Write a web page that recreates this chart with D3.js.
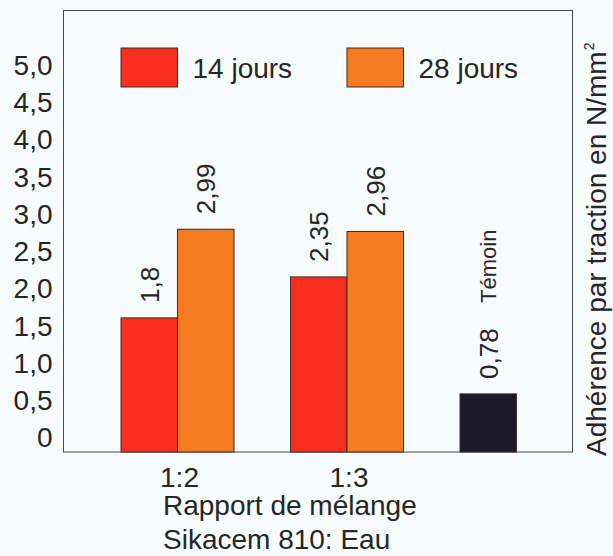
<!DOCTYPE html>
<html>
<head>
<meta charset="utf-8">
<script src="https://cdn.jsdelivr.net/npm/d3@7"></script>
<style>
    body { margin: 0; background: #f7fbfb; }
    svg { display: block; font-family: "Liberation Sans", Arial, Helvetica, sans-serif; }
</style>
</head>
<body>
<div class="chart"></div>
<script>
"use strict";
// data
const groups = ["1:2", "1:3", "Témoin"];
const seriesNames = ["14 jours", "28 jours"];
const values14 = [1.8, 2.35];
const values28 = [2.99, 2.96];
const temoinValue = 0.78;
const yTicks = [0, 0.5, 1, 1.5, 2, 2.5, 3, 3.5, 4, 4.5, 5];
const xTitle = "Rapport de mélange";
const xSubtitle = "Sikacem 810: Eau";
const yTitle = "Adhérence par traction en N/mm";

const colors = {"14 jours": "#fb2d1f", "28 jours": "#f77b22", "Témoin": "#1b1a26"};

let width = 613, height = 556;
let frame = {left: 63.5, right: 572.5, top: 10.5, bottom: 452};

let locale = d3.formatLocale({decimal: ",", thousands: " ", grouping: [3], currency: ["", " €"]});
let fmtTick = locale.format(".1f");
let fmtValue = locale.format("");

let rows = [];
values14.forEach((v, i) => rows.push({group: groups[i], key: seriesNames[0], value: v}));
values28.forEach((v, i) => rows.push({group: groups[i], key: seriesNames[1], value: v}));
rows.push({group: groups[2], key: seriesNames[0], value: temoinValue, temoin: true});

let x0 = d3.scaleBand().domain(groups).range([frame.left + 57.5, frame.right + 0.5]).paddingInner(1 / 3);
let x1 = d3.scaleBand().domain(seriesNames).range([0, x0.bandwidth()]);
let y = d3.scaleLinear().domain([0, 5]).range([frame.bottom, frame.bottom - 372.5]);

let svg = d3.select(".chart").append("svg")
    .attr("width", width)
    .attr("height", height);

svg.append("rect")
    .attr("width", width).attr("height", height)
    .attr("fill", "#f7fbfb");

// frame
svg.append("rect")
    .attr("x", frame.left).attr("y", frame.top)
    .attr("width", frame.right - frame.left)
    .attr("height", frame.bottom - frame.top)
    .attr("fill", "none")
    .attr("stroke", "#4a4a4a")
    .attr("stroke-width", 1);

// y axis labels
let yAxis = d3.axisLeft(y)
    .tickValues(yTicks)
    .tickSize(0)
    .tickPadding(11)
    .tickFormat(d => d === 0 ? "0" : fmtTick(d));

svg.append("g")
    .attr("transform", "translate(" + frame.left + ",0)")
    .call(yAxis)
    .attr("font-family", null)
    .attr("font-size", 28)
    .call(g => g.select(".domain").remove())
    .selectAll("text")
    .attr("dy", "-0.18em")
    .attr("fill", "#262626");

// x axis labels
let xAxis = d3.axisBottom(x0)
    .tickValues(groups.slice(0, 2))
    .tickSize(0);

svg.append("g")
    .attr("transform", "translate(0," + frame.bottom + ")")
    .call(xAxis)
    .attr("font-family", null)
    .attr("font-size", 28)
    .call(g => g.select(".domain").remove())
    .selectAll("text")
    .attr("y", 35)
    .attr("dy", 0)
    .attr("dx", 2)
    .attr("fill", "#262626");

svg.append("text")
    .attr("x", 163).attr("y", 515)
    .attr("font-size", 28)
    .attr("fill", "#262626")
    .text(xTitle);

svg.append("text")
    .attr("x", 163).attr("y", 549)
    .attr("font-size", 28)
    .attr("fill", "#262626")
    .text(xSubtitle);

// right title, rotated
let title = svg.append("text")
    .attr("transform", "translate(606,456) rotate(-90)")
    .attr("font-size", 28)
    .attr("fill", "#262626")
    .text(yTitle);
title.append("tspan")
    .attr("dy", -12)
    .attr("dx", 1)
    .attr("font-size", 14)
    .text("2");

// bars
svg.selectAll(".bar")
    .data(rows)
    .enter().append("rect")
    .attr("class", "bar")
    .attr("x", d => x0(d.group) + x1(d.key))
    .attr("width", x1.bandwidth())
    .attr("y", d => y(d.value))
    .attr("height", d => y(0) - y(d.value))
    .attr("fill", d => d.temoin ? colors["Témoin"] : colors[d.key])
    .attr("stroke", "#3b2b2b")
    .attr("stroke-width", 1);

// value labels
let cx = d => x0(d.group) + x1(d.key) + x1.bandwidth() / 2;
svg.selectAll(".val")
    .data(rows)
    .enter().append("text")
    .attr("class", "val")
    .attr("transform", d => "translate(" + cx(d) + "," + (y(d.value) - 15) + ") rotate(-90)")
    .attr("dy", "0.36em")
    .attr("font-size", 26)
    .attr("fill", "#262626")
    .text(d => fmtValue(d.value));

// "Témoin" name above its value
svg.selectAll(".name")
    .data(rows.filter(d => d.temoin))
    .enter().append("text")
    .attr("class", "name")
    .attr("transform", d => "translate(" + cx(d) + "," + (y(d.value) - 91) + ") rotate(-90)")
    .attr("dy", "0.36em")
    .attr("font-size", 22)
    .attr("fill", "#262626")
    .text(d => d.group);

// legend
let legend = svg.append("g");
let legendItems = [
    {key: seriesNames[0], x: x0(groups[0]) + x1(seriesNames[0])},
    {key: seriesNames[1], x: x0(groups[1]) + x1(seriesNames[1])}
];
legend.selectAll("rect")
    .data(legendItems)
    .enter().append("rect")
    .attr("x", d => d.x)
    .attr("y", 48)
    .attr("width", x1.bandwidth())
    .attr("height", 39)
    .attr("fill", d => colors[d.key])
    .attr("stroke", "#3b2b2b")
    .attr("stroke-width", 1);
legend.selectAll("text")
    .data(legendItems)
    .enter().append("text")
    .attr("x", d => d.x + x1.bandwidth() + 15)
    .attr("y", 78)
    .attr("font-size", 28)
    .attr("fill", "#262626")
    .text(d => d.key);
</script>
</body>
</html>
